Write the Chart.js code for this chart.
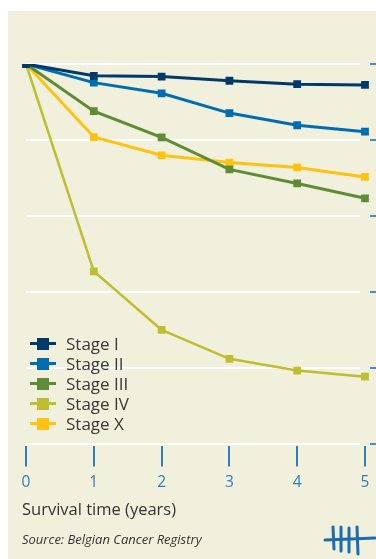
<!DOCTYPE html>
<html>
<head>
<meta charset="utf-8">
<script src="https://cdn.jsdelivr.net/npm/chart.js@4.4.1/dist/chart.umd.min.js"></script>
<style>
  html, body { margin: 0; padding: 0; background: #fff; overflow: hidden; width: 376px; height: 559px; }
  #panel { position: absolute; left: 8px; top: 11px; right: 0; bottom: 0; background: #f1f0dc; }
  #wrap { position: absolute; left: 0; top: 0; width: 390px; height: 500px; }
  #legend { position: absolute; left: 30px; top: 334px; font-family: "Open Sans", sans-serif; font-size: 17px; color: #383838; }
  .item { height: 20px; line-height: 20px; position: relative; padding-left: 36px; white-space: nowrap; }
  .item .ln { position: absolute; left: 0; top: 8px; width: 26px; height: 3px; }
  .item .mk { position: absolute; left: 7px; top: 4px; width: 12px; height: 12px; }
  #xtitle { position: absolute; left: 22px; top: 497px; font-family: "Open Sans", sans-serif; font-size: 16.5px; color: #333; }
  #source { position: absolute; left: 22px; top: 530px; font-family: "Open Sans", sans-serif; font-style: italic; font-size: 13px; color: #333; }
  #logo { position: absolute; left: 322px; top: 522px; }
</style>
</head>
<body>
<div id="panel"></div>
<div id="wrap"><canvas id="survivalChart"></canvas></div>
<div id="legend"></div>
<div id="xtitle">Survival time (years)</div>
<div id="source">Source: Belgian Cancer Registry</div>
<svg id="logo" width="54" height="36" viewBox="0 0 54 36">
  <g stroke="#1b6db0" stroke-width="3" stroke-linecap="round" fill="none">
    <path d="M3 18 L53 16"/>
    <path d="M11 5 L12 27"/>
    <path d="M19 5 L19 29"/>
    <path d="M27 6 L27 30"/>
    <path d="M35 5 L36 32"/>
  </g>
</svg>
<script>
const years = ['0', '1', '2', '3', '4', '5'];
const stageNames = ['Stage I', 'Stage II', 'Stage III', 'Stage IV', 'Stage X'];
const stageColors = ['#003a6b', '#006db3', '#5e8b34', '#bdbe30', '#ffc20e'];

const stage1 = [100, 96.9, 96.7, 95.6, 94.7, 94.5];
const stage2 = [100, 95.1, 92.3, 87.1, 83.9, 82.2];
const stage3 = [100, 87.6, 80.7, 72.3, 68.6, 64.7];
const stage4 = [100, 45.5, 30.1, 22.5, 19.4, 17.8];
const stageX = [100, 80.8, 76.0, 74.1, 72.8, 70.3];

const yTicks = [0, 20, 40, 60, 80, 100];

const series = [stage1, stage2, stage3, stage4, stageX];

const datasets = series.map((values, i) => ({
  label: stageNames[i],
  data: values,
  borderColor: stageColors[i],
  backgroundColor: stageColors[i],
  borderWidth: i === 3 ? 2.5 : 3,
  pointStyle: 'rect',
  pointRadius: 5.5,
  pointHoverRadius: 5.5,
  pointBorderWidth: 0,
  tension: 0
}));

new Chart(document.getElementById('survivalChart'), {
  type: 'line',
  data: { labels: years, datasets },
  options: {
    responsive: true,
    maintainAspectRatio: false,
    animation: false,
    layout: { padding: { top: 64, left: 26, right: 9, bottom: 1 } },
    plugins: { legend: { display: false }, tooltip: { enabled: false } },
    scales: {
      x: {
        offset: false,
        grid: { drawOnChartArea: false, tickLength: 22, tickColor: '#2f7fba', lineWidth: 2 },
        border: { display: true, width: 4, color: 'rgba(0,0,0,0)' },
        ticks: { color: '#2f7fba', padding: 7, font: { family: 'Open Sans', size: 15.5 } }
      },
      y: {
        position: 'right',
        min: 0,
        max: 100,
        afterBuildTicks: (axis) => { axis.ticks = yTicks.map(v => ({ value: v })); },
        grid: { color: '#ffffff', lineWidth: 2, tickLength: 16, tickColor: '#4a8fc4' },
        border: { display: true, width: 10, color: 'rgba(0,0,0,0)' },
        ticks: { display: false }
      }
    }
  }
});

document.getElementById('legend').innerHTML = stageNames.map((name, i) => `
  <div class="item">
    <span class="ln" style="background:${stageColors[i]}"></span>
    <span class="mk" style="background:${stageColors[i]}"></span>${name}
  </div>`).join('');
</script>
</body>
</html>
